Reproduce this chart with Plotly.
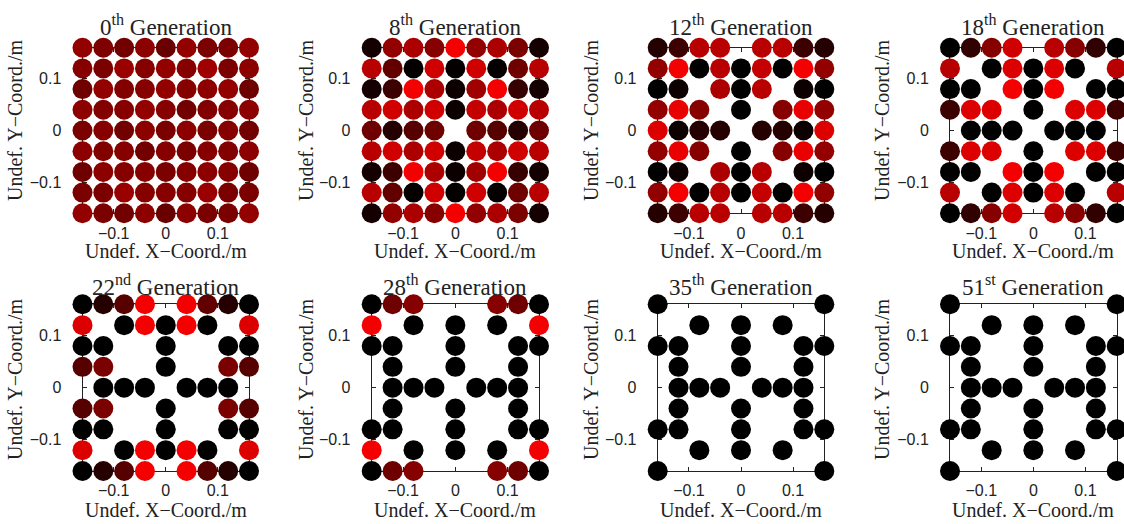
import plotly.graph_objects as go

# Element grid positions (m)
coords = [-0.16, -0.12, -0.08, -0.04, 0.0, 0.04, 0.08, 0.12, 0.16]
tick_vals = [-0.1, 0, 0.1]
gen_labels = ["0<sup>th</sup>", "8<sup>th</sup>", "12<sup>th</sup>", "18<sup>th</sup>",
              "22<sup>nd</sup>", "28<sup>th</sup>", "35<sup>th</sup>", "51<sup>st</sup>"]

# Relative density (0 = black, 1 = bright red); None = element removed.
# Rows listed from top (y = 0.16) to bottom (y = -0.16)
N = None
gen_0 = [
    [0.60, 0.52, 0.47, 0.57, 0.43, 0.60, 0.50, 0.50, 0.60],
    [0.55, 0.50, 0.63, 0.55, 0.60, 0.55, 0.65, 0.50, 0.57],
    [0.45, 0.60, 0.53, 0.55, 0.60, 0.55, 0.57, 0.60, 0.45],
    [0.57, 0.53, 0.55, 0.60, 0.55, 0.47, 0.53, 0.55, 0.57],
    [0.50, 0.55, 0.47, 0.57, 0.50, 0.57, 0.50, 0.55, 0.47],
    [0.57, 0.53, 0.55, 0.47, 0.55, 0.50, 0.55, 0.53, 0.57],
    [0.45, 0.57, 0.55, 0.55, 0.50, 0.55, 0.57, 0.55, 0.45],
    [0.50, 0.50, 0.63, 0.55, 0.55, 0.55, 0.63, 0.50, 0.50],
    [0.60, 0.50, 0.47, 0.57, 0.43, 0.57, 0.50, 0.50, 0.60],
]
gen_8 = [
    [0.08, 0.60, 0.70, 0.55, 1.00, 0.60, 0.70, 0.50, 0.08],
    [0.75, 0.40, 0.02, 0.85, 0.02, 0.85, 0.02, 0.45, 0.75],
    [0.08, 0.25, 1.00, 0.70, 0.05, 0.65, 1.00, 0.22, 0.08],
    [0.75, 0.85, 0.70, 0.85, 0.05, 0.80, 0.70, 0.85, 0.75],
    [0.45, 0.15, 0.35, 0.45, N,    0.45, 0.35, 0.15, 0.45],
    [0.75, 0.85, 0.70, 0.85, 0.05, 0.80, 0.70, 0.85, 0.75],
    [0.08, 0.25, 1.00, 0.70, 0.05, 0.65, 1.00, 0.22, 0.08],
    [0.75, 0.40, 0.02, 0.85, 0.02, 0.85, 0.02, 0.45, 0.75],
    [0.08, 0.60, 0.70, 0.55, 1.00, 0.60, 0.70, 0.50, 0.08],
]
gen_12 = [
    [0.15, 0.25, 0.75, 0.75, N,    0.75, 0.75, 0.25, 0.15],
    [0.60, 1.00, 0.00, 0.75, 0.00, 0.80, 0.00, 1.00, 0.60],
    [0.00, 0.05, N,    0.70, 0.00, 0.75, N,    0.05, 0.00],
    [0.60, 0.95, 0.55, N,    0.00, N,    0.55, 0.95, 0.60],
    [0.90, 0.05, 0.15, 0.15, N,    0.15, 0.15, 0.05, 0.90],
    [0.60, 0.95, 0.55, N,    0.00, N,    0.55, 0.95, 0.60],
    [0.00, 0.05, N,    0.70, 0.00, 0.75, N,    0.05, 0.00],
    [0.60, 1.00, 0.00, 0.75, 0.00, 0.80, 0.00, 1.00, 0.60],
    [0.15, 0.25, 0.75, 0.75, N,    0.75, 0.75, 0.25, 0.15],
]
gen_18 = [
    [0.00, 0.20, 0.55, 0.85, N,    0.75, 0.55, 0.20, 0.00],
    [0.75, N,    0.00, 0.90, 0.00, 0.90, 0.00, N,    0.75],
    [0.00, 0.00, N,    1.00, 0.00, 1.00, N,    0.00, 0.00],
    [0.25, 0.90, 0.90, N,    0.00, N,    0.90, 0.90, 0.25],
    [N,    0.00, 0.00, 0.00, N,    0.00, 0.00, 0.00, N   ],
    [0.25, 0.90, 0.90, N,    0.00, N,    0.90, 0.90, 0.25],
    [0.00, 0.00, N,    1.00, 0.00, 1.00, N,    0.00, 0.00],
    [0.75, N,    0.00, 0.90, 0.00, 0.90, 0.00, N,    0.75],
    [0.00, 0.20, 0.55, 0.85, N,    0.75, 0.55, 0.20, 0.00],
]
gen_22 = [
    [0.00, 0.15, 0.35, 1.00, N,    1.00, 0.40, 0.15, 0.00],
    [0.90, N,    0.00, 1.00, 0.00, 1.00, 0.00, N,    0.90],
    [0.00, 0.00, N,    N,    0.00, N,    N,    0.00, 0.00],
    [0.35, 0.50, N,    N,    0.00, N,    N,    0.50, 0.35],
    [N,    0.00, 0.00, 0.00, N,    0.00, 0.00, 0.00, N   ],
    [0.35, 0.50, N,    N,    0.00, N,    N,    0.50, 0.35],
    [0.00, 0.00, N,    N,    0.00, N,    N,    0.00, 0.00],
    [0.90, N,    0.00, 1.00, 0.00, 1.00, 0.00, N,    0.90],
    [0.00, 0.15, 0.35, 1.00, N,    1.00, 0.35, 0.15, 0.00],
]
gen_28 = [
    [0.00, 0.45, 0.55, N,    N,    N,    0.55, 0.45, 0.00],
    [1.00, N,    0.00, N,    0.00, N,    0.00, N,    1.00],
    [0.00, 0.00, N,    N,    0.00, N,    N,    0.00, 0.00],
    [N,    0.00, N,    N,    0.00, N,    N,    0.00, N   ],
    [N,    0.00, 0.00, 0.00, N,    0.00, 0.00, 0.00, N   ],
    [N,    0.00, N,    N,    0.00, N,    N,    0.00, N   ],
    [0.00, 0.00, N,    N,    0.00, N,    N,    0.00, 0.00],
    [1.00, N,    0.00, N,    0.00, N,    0.00, N,    1.00],
    [0.00, 0.45, 0.55, N,    N,    N,    0.55, 0.45, 0.00],
]
gen_35 = [
    [0.00, N,    N,    N,    N,    N,    N,    N,    0.00],
    [N,    N,    0.00, N,    0.00, N,    0.00, N,    N   ],
    [0.00, 0.00, N,    N,    0.00, N,    N,    0.00, 0.00],
    [N,    0.00, N,    N,    0.00, N,    N,    0.00, N   ],
    [N,    0.00, 0.00, 0.00, N,    0.00, 0.00, 0.00, N   ],
    [N,    0.00, N,    N,    0.00, N,    N,    0.00, N   ],
    [0.00, 0.00, N,    N,    0.00, N,    N,    0.00, 0.00],
    [N,    N,    0.00, N,    0.00, N,    0.00, N,    N   ],
    [0.00, N,    N,    N,    N,    N,    N,    N,    0.00],
]
gen_51 = [
    [0.00, N,    N,    N,    N,    N,    N,    N,    0.00],
    [N,    N,    0.00, N,    0.00, N,    0.00, N,    N   ],
    [0.00, 0.00, N,    N,    0.00, N,    N,    0.00, 0.00],
    [N,    0.00, N,    N,    0.00, N,    N,    0.00, N   ],
    [N,    0.00, 0.00, 0.00, N,    0.00, 0.00, 0.00, N   ],
    [N,    0.00, N,    N,    0.00, N,    N,    0.00, N   ],
    [0.00, 0.00, N,    N,    0.00, N,    N,    0.00, 0.00],
    [N,    N,    0.00, N,    0.00, N,    0.00, N,    N   ],
    [0.00, N,    N,    N,    N,    N,    N,    N,    0.00],
]
panels = [gen_0, gen_8, gen_12, gen_18, gen_22, gen_28, gen_35, gen_51]

W, H = 1124, 524
col_px = [(82.5, 249.0), (371.7, 539.0), (657.7, 824.3), (950.0, 1116.7)]
row_px = [(47.7, 213.3), (304.3, 471.0)]
ytitle_x = [15, 306, 591, 882]
title_y = [25, 285]
xtitle_y = [251, 510]
ytitle_yc = [120, 379]

serif = "Liberation Serif, Times New Roman, serif"
sans = "Liberation Sans, Arial, sans-serif"

fig = go.Figure()
annotations = []
layout_axes = {}
rows_y = coords[::-1]
for k, grid in enumerate(panels):
    r, c = divmod(k, 4)
    xs, ys, vs = [], [], []
    for i, row in enumerate(grid):
        for j, v in enumerate(row):
            if v is None:
                continue
            xs.append(coords[j])
            ys.append(rows_y[i])
            vs.append(v)
    sfx = "" if k == 0 else str(k + 1)
    fig.add_trace(go.Scatter(
        x=xs, y=ys, mode="markers", xaxis="x" + sfx, yaxis="y" + sfx,
        cliponaxis=False, showlegend=False, hoverinfo="skip",
        marker=dict(size=20, color=vs, colorscale=[[0, "#000000"], [1, "#f50000"]],
                    cmin=0, cmax=1, line=dict(width=0)),
    ))
    x0, x1 = col_px[c]
    y0, y1 = row_px[r]
    common = dict(range=[-0.16, 0.16], tickvals=tick_vals, ticks="inside", ticklen=4,
                  tickcolor="#222", showline=True, linecolor="#222", linewidth=1,
                  mirror="ticks", showgrid=False, zeroline=False, layer="below traces",
                  tickfont=dict(family=sans, size=16, color="#222"), fixedrange=True)
    layout_axes["xaxis" + sfx] = dict(common, domain=[x0 / W, x1 / W],
                                      anchor="y" + sfx, ticklabelstandoff=5)
    layout_axes["yaxis" + sfx] = dict(common, domain=[1 - y1 / H, 1 - y0 / H],
                                      anchor="x" + sfx, ticklabelstandoff=17)
    xc = (x0 + x1) / 2
    annotations.append(dict(text=gen_labels[k] + " Generation", x=xc / W, y=1 - title_y[r] / H,
                            xref="paper", yref="paper", xanchor="center", yanchor="middle",
                            showarrow=False, font=dict(family=serif, size=23, color="#222")))
    annotations.append(dict(text="Undef. X\u2212Coord./m", x=xc / W, y=1 - xtitle_y[r] / H,
                            xref="paper", yref="paper", xanchor="center", yanchor="middle",
                            showarrow=False, font=dict(family=serif, size=20, color="#222")))
    annotations.append(dict(text="Undef. Y\u2212Coord./m", x=ytitle_x[c] / W, y=1 - ytitle_yc[r] / H,
                            xref="paper", yref="paper", xanchor="center", yanchor="middle",
                            textangle=-90, showarrow=False,
                            font=dict(family=serif, size=20, color="#222")))

fig.update_layout(width=W, height=H, margin=dict(l=0, r=0, t=0, b=0),
                  paper_bgcolor="white", plot_bgcolor="white",
                  annotations=annotations, **layout_axes)
fig.write_html("out.html", config={"displayModeBar": False},
               post_script="document.body.style.margin='0';document.body.style.padding='0';")
